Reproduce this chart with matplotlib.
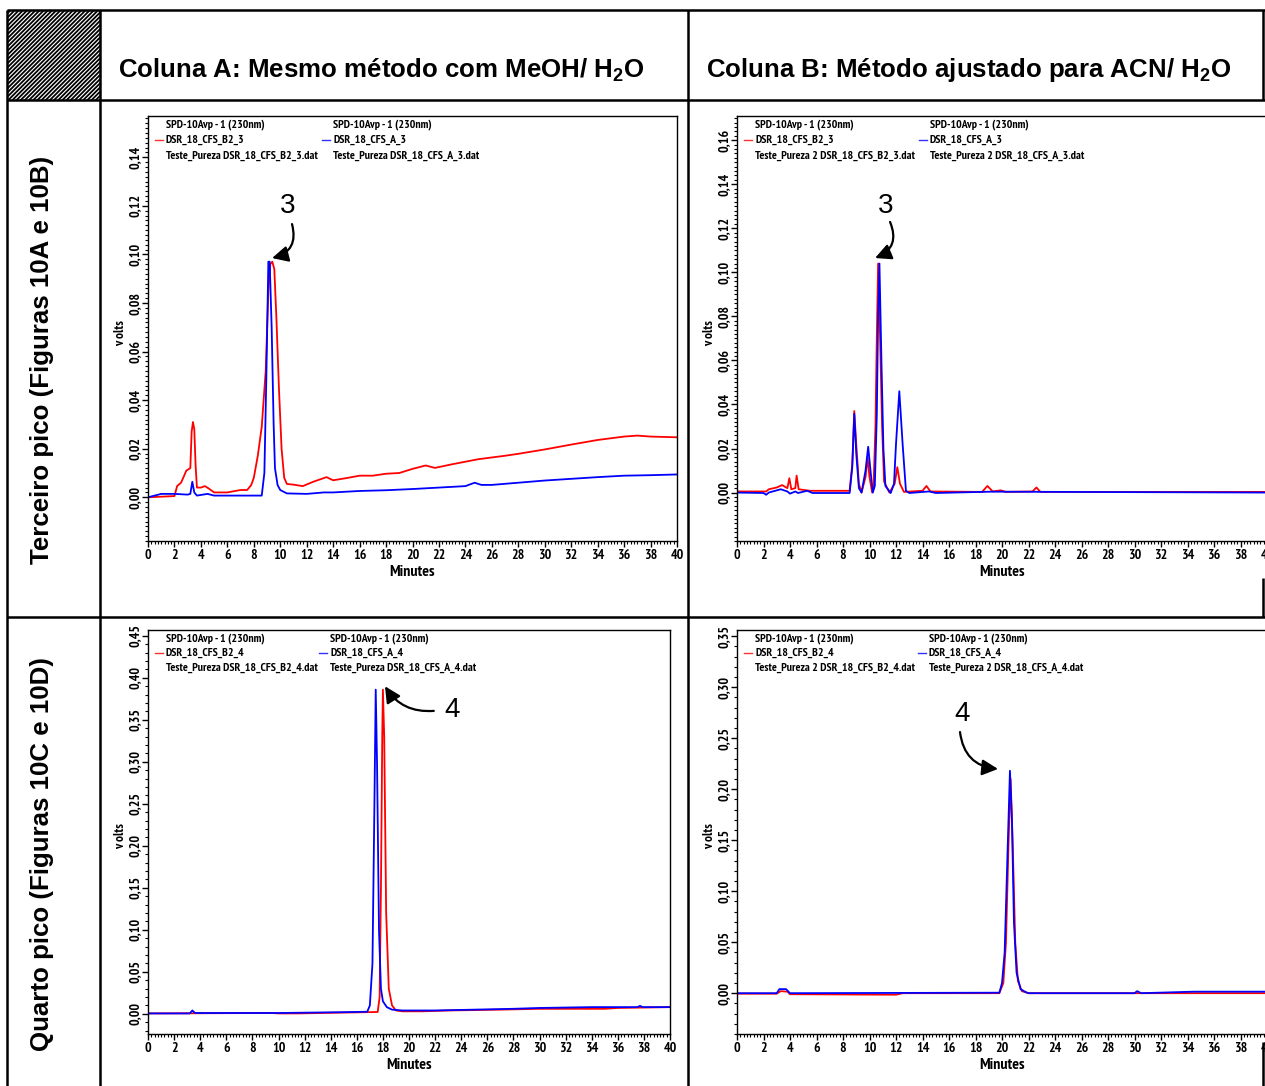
import numpy as np
import matplotlib.pyplot as plt
from matplotlib import font_manager
from matplotlib.font_manager import FontProperties
from matplotlib.patches import Rectangle
from matplotlib.ticker import MultipleLocator, FixedLocator, FuncFormatter

# tempo (min), sinal (volts) lidos dos cromatogramas
# 10A - coluna A, terceiro pico
a3_red = [(0.0, 0.0), (2.0, 0.0005), (2.2, 0.0046), (2.5, 0.006), (2.9, 0.011), (3.2, 0.012),
          (3.3, 0.027), (3.4, 0.031), (3.5, 0.028), (3.6, 0.013), (3.7, 0.004), (4.0, 0.004),
          (4.3, 0.0046), (4.6, 0.0036), (5.0, 0.002), (6.0, 0.002), (7.0, 0.003), (7.5, 0.003),
          (7.8, 0.005), (8.0, 0.008), (8.3, 0.017), (8.6, 0.029), (8.9, 0.052), (9.1, 0.085),
          (9.25, 0.096), (9.4, 0.097), (9.55, 0.094), (9.7, 0.075), (9.9, 0.045), (10.1, 0.02),
          (10.3, 0.008), (10.5, 0.0055), (11.0, 0.0052), (11.7, 0.0046), (12.5, 0.0064),
          (13.5, 0.0083), (14.0, 0.007), (15.0, 0.0079), (16.0, 0.0089), (17.0, 0.0089),
          (18.0, 0.0097), (19.0, 0.010), (20.0, 0.0117), (21.0, 0.0131), (21.7, 0.0121),
          (23.0, 0.0136), (25.0, 0.0157), (27.0, 0.0171), (28.0, 0.0179), (30.0, 0.0197),
          (32.0, 0.0217), (34.0, 0.0236), (36.0, 0.025), (37.0, 0.0254), (38.0, 0.025), (40.0, 0.0247)]
a3_blue = [(0.0, 0.0), (0.5, 0.0007), (1.0, 0.0014), (2.0, 0.0014), (3.0, 0.0011), (3.2, 0.0014),
           (3.35, 0.0064), (3.5, 0.002), (3.7, 0.0007), (4.5, 0.0014), (5.0, 0.0007), (8.6, 0.0007),
           (8.8, 0.01), (8.95, 0.05), (9.1, 0.097), (9.2, 0.097), (9.35, 0.07), (9.5, 0.03),
           (9.6, 0.012), (9.8, 0.005), (10.0, 0.003), (10.5, 0.0016), (12.0, 0.0014), (13.3, 0.002),
           (14.0, 0.002), (16.0, 0.0026), (18.0, 0.0029), (20.0, 0.0034), (22.0, 0.004), (24.0, 0.0046),
           (24.7, 0.006), (25.2, 0.0051), (26.0, 0.0051), (28.0, 0.006), (30.0, 0.0069), (32.0, 0.0076),
           (34.0, 0.0083), (36.0, 0.0089), (38.0, 0.0091), (40.0, 0.0094)]

# 10B - coluna B, terceiro pico
b3_red = [(0.0, 0.0005), (2.2, 0.0005), (2.4, 0.0015), (3.0, 0.0023), (3.4, 0.0034), (3.8, 0.002),
          (3.95, 0.0065), (4.1, 0.0015), (4.4, 0.002), (4.5, 0.0077), (4.65, 0.0015), (5.5, 0.0008),
          (8.5, 0.0008), (8.7, 0.013), (8.85, 0.037), (9.0, 0.022), (9.2, 0.004), (9.4, 0.0),
          (9.7, 0.007), (9.85, 0.016), (10.0, 0.007), (10.2, 0.0), (10.3, 0.002), (10.45, 0.03),
          (10.55, 0.07), (10.65, 0.104), (10.8, 0.07), (10.95, 0.03), (11.1, 0.005), (11.5, 0.0),
          (11.9, 0.004), (12.1, 0.0115), (12.3, 0.004), (12.6, 0.0003), (14.0, 0.0008), (14.3, 0.003),
          (14.6, 0.0005), (18.5, 0.0003), (18.9, 0.003), (19.3, 0.0005), (19.9, 0.001), (20.3, 0.0003),
          (22.3, 0.0005), (22.6, 0.0023), (22.9, 0.0003), (40.0, 0.0003)]
b3_blue = [(0.0, 0.0), (2.0, -0.0002), (2.2, -0.001), (2.4, 0.0), (3.3, 0.0015), (3.8, 0.0005),
           (4.0, -0.0005), (4.4, 0.0005), (4.6, -0.0002), (5.3, 0.0008), (5.7, -0.0002), (8.5, -0.0002),
           (8.7, 0.0115), (8.85, 0.0358), (9.0, 0.0177), (9.2, 0.002), (9.4, 0.0), (9.7, 0.01),
           (9.9, 0.0208), (10.1, 0.0085), (10.25, 0.0), (10.4, 0.003), (10.55, 0.035), (10.65, 0.08),
           (10.75, 0.104), (10.9, 0.06), (11.05, 0.02), (11.2, 0.003), (11.6, -0.0002), (11.85, 0.004),
           (12.0, 0.022), (12.25, 0.046), (12.5, 0.022), (12.75, 0.0008), (13.0, -0.0002), (14.5, 0.0005),
           (15.0, -0.0002), (19.2, 0.0004), (40.0, 0.0)]

# 10C - coluna A, quarto pico
c4_red = [(0.0, 0.0005), (9.5, 0.001), (10.0, 0.0005), (11.5, 0.0005), (15.0, 0.0015), (17.6, 0.0022),
          (17.75, 0.02), (17.85, 0.15), (17.95, 0.33), (18.0, 0.386), (18.1, 0.33), (18.25, 0.12),
          (18.45, 0.03), (18.7, 0.01), (19.0, 0.004), (19.5, 0.003), (21.0, 0.003), (23.0, 0.004),
          (27.0, 0.005), (30.0, 0.006), (35.0, 0.006), (36.0, 0.007), (40.0, 0.008)]
c4_blue = [(0.0, 0.0005), (3.2, 0.0005), (3.4, 0.004), (3.6, 0.001), (10.0, 0.001), (15.0, 0.002),
           (16.8, 0.0025), (17.0, 0.01), (17.2, 0.06), (17.35, 0.25), (17.45, 0.386), (17.55, 0.3),
           (17.7, 0.1), (17.85, 0.03), (18.0, 0.015), (18.3, 0.008), (18.7, 0.005), (19.5, 0.004),
           (22.0, 0.004), (25.0, 0.005), (28.0, 0.006), (30.0, 0.007), (34.0, 0.008), (37.5, 0.008),
           (37.7, 0.0095), (37.9, 0.008), (40.0, 0.008)]

# 10D - coluna B, quarto pico
d4_red = [(0.0, -0.0005), (3.0, -0.0005), (3.3, 0.002), (3.8, 0.0015), (4.0, -0.001), (12.0, -0.0015),
          (12.5, 0.0), (19.8, 0.0), (20.1, 0.01), (20.3, 0.05), (20.5, 0.15), (20.65, 0.21),
          (20.8, 0.15), (21.0, 0.05), (21.2, 0.012), (21.5, 0.002), (22.0, 0.0), (40.0, 0.0)]
d4_blue = [(0.0, 0.0), (3.0, 0.0), (3.2, 0.004), (3.7, 0.004), (4.0, 0.0), (19.8, 0.0005),
           (20.0, 0.01), (20.2, 0.04), (20.4, 0.13), (20.6, 0.218), (20.75, 0.17), (20.9, 0.07),
           (21.1, 0.02), (21.4, 0.004), (21.8, 0.001), (22.0, 0.0), (30.0, 0.0), (30.2, 0.002),
           (30.5, 0.0), (34.5, 0.0015), (40.0, 0.0015)]

col_titles = ['Coluna A: Mesmo método com MeOH/ H$_\\mathbf{2}$O',
              'Coluna B: Método ajustado para ACN/ H$_\\mathbf{2}$O']
row_titles = ['Terceiro pico (Figuras 10A e 10B)', 'Quarto pico (Figuras 10C e 10D)']
detector = 'SPD-10Avp - 1 (230nm)'
samples = [('DSR_18_CFS_B2_3', 'DSR_18_CFS_A_3'), ('DSR_18_CFS_B2_3', 'DSR_18_CFS_A_3'),
           ('DSR_18_CFS_B2_4', 'DSR_18_CFS_A_4'), ('DSR_18_CFS_B2_4', 'DSR_18_CFS_A_4')]
files = [('Teste_Pureza DSR_18_CFS_B2_3.dat', 'Teste_Pureza DSR_18_CFS_A_3.dat'),
         ('Teste_Pureza 2 DSR_18_CFS_B2_3.dat', 'Teste_Pureza 2 DSR_18_CFS_A_3.dat'),
         ('Teste_Pureza DSR_18_CFS_B2_4.dat', 'Teste_Pureza DSR_18_CFS_A_4.dat'),
         ('Teste_Pureza 2 DSR_18_CFS_B2_4.dat', 'Teste_Pureza 2 DSR_18_CFS_A_4.dat')]
peak_labels = ['3', '3', '4', '4']

# fonte estreita em negrito (Arial Narrow no original)
narrow_path = None
k = 0.85
entries = font_manager.fontManager.ttflist
for f in entries:
    if 'Narrow' in f.name and f.weight in (700, 'bold') and f.style == 'normal':
        narrow_path, k = f.fname, 1.0
        break
if narrow_path is None:
    for f in entries:
        fn = f.fname.lower()
        if 'condensed' in fn and 'bold' in fn and 'oblique' not in fn and 'italic' not in fn \
                and 'mono' not in fn and 'serif' not in fn:
            narrow_path = f.fname
            break


def nfp(size):
    if narrow_path:
        return FontProperties(fname=narrow_path, size=size * k)
    return FontProperties(family='DejaVu Sans', weight='bold', size=size * 0.8)


plt.rcParams['mathtext.fontset'] = 'custom'
plt.rcParams['mathtext.bf'] = 'Liberation Sans:bold'
plt.rcParams['mathtext.rm'] = 'Liberation Sans:bold'
plt.rcParams['hatch.linewidth'] = 1.3

W, H = 1265, 1086
fig = plt.figure(figsize=(W / 100, H / 100), dpi=100)
fig.patch.set_facecolor('white')

# tabela de fundo em pixels
bg = fig.add_axes([0, 0, 1, 1])
bg.set_xlim(0, W)
bg.set_ylim(H, 0)
bg.axis('off')
lw_tab = 1.8
for y in [10, 100, 617]:
    bg.plot([7, 1265], [y, y], color='black', lw=lw_tab, solid_capstyle='butt')
for x in [7, 100, 688]:
    bg.plot([x, x], [10, H], color='black', lw=lw_tab, solid_capstyle='butt')
for y0, y1 in [(10, 100), (578, 617), (1042, H)]:
    bg.plot([1263, 1263], [y0, y1], color='black', lw=lw_tab, solid_capstyle='butt')
bg.add_patch(Rectangle((7, 10), 93, 90, facecolor='white', edgecolor='black', hatch='////////', lw=0))

title_kw = dict(fontsize=18.6, fontweight='bold', family='Liberation Sans')
bg.text(118, 70, col_titles[0], ha='left', va='center', **title_kw)
bg.text(706, 70, col_titles[1], ha='left', va='center', **title_kw)
bg.text(42, 360, row_titles[0], rotation=90, ha='center', va='center', **title_kw)
bg.text(42, 854, row_titles[1], rotation=90, ha='center', va='center', **title_kw)

# caixas dos graficos (pixels: esquerda, direita, topo, base)
boxes = [(148, 677, 116, 541), (737, 1267, 116, 541), (148, 670, 630, 1034), (737, 1267, 630, 1034)]
ylims = [(-0.018, 0.157), (-0.022, 0.171), (-0.024, 0.457), (-0.04, 0.356)]
ymajor = [0.02, 0.02, 0.05, 0.05]
yminor = [0.002, 0.002, 0.01, 0.01]
traces = [(a3_red, a3_blue), (b3_red, b3_blue), (c4_red, c4_blue), (d4_red, d4_blue)]
leg_x2 = [0.350, 0.364, 0.349, 0.362]
# posicao do numero do pico, cauda e ponta da seta (dados), curvatura
notes = [((10.59, 0.120), (10.89, 0.1125), (9.38, 0.0985), -0.5),
         ((11.25, 0.130), (11.55, 0.1229), (10.42, 0.1065), -0.5),
         ((23.3, 0.362), (21.9, 0.3607), (18.16, 0.390), -0.3),
         ((16.98, 0.2737), (16.83, 0.256), (19.7, 0.2198), 0.4)]

fmt = FuncFormatter(lambda v, _: ('%.2f' % abs(v)).replace('.', ',') if abs(v) < 1e-9
                    else ('%.2f' % v).replace('.', ','))

for i, (l, r, t, b) in enumerate(boxes):
    ax = fig.add_axes([l / W, 1 - b / H, (r - l) / W, (b - t) / H])
    red = np.array(traces[i][0])
    blue = np.array(traces[i][1])
    ax.plot(red[:, 0], red[:, 1], color='#ff0000', lw=1.3)
    ax.plot(blue[:, 0], blue[:, 1], color='#0000ff', lw=1.3)
    ax.set_xlim(0, 40)
    ax.set_ylim(*ylims[i])
    ax.xaxis.set_major_locator(MultipleLocator(2))
    ax.xaxis.set_minor_locator(MultipleLocator(0.25))
    ax.yaxis.set_major_locator(FixedLocator(np.arange(0, ylims[i][1], ymajor[i])))
    ax.yaxis.set_minor_locator(MultipleLocator(yminor[i]))
    ax.yaxis.set_major_formatter(fmt)
    ax.tick_params(which='major', direction='out', length=4, width=1, pad=2)
    ax.tick_params(which='minor', direction='out', length=2, width=0.8)
    ax.tick_params(axis='y', labelrotation=90, pad=0.8)
    for lab in ax.get_xticklabels() + ax.get_yticklabels():
        lab.set_fontproperties(nfp(10))
    for lab in ax.get_yticklabels():
        lab.set_va('center')
    for sp in ax.spines.values():
        sp.set_linewidth(1.0)
    ax.set_xlabel('Minutes', fontproperties=nfp(11.5), labelpad=2)
    ax.text(-0.052, 0.49, 'v olts', transform=ax.transAxes, rotation=90,
            fontproperties=nfp(9.5), ha='center', va='center')

    # legenda do software
    ys = [0.980, 0.944, 0.906]
    for x0, col, s, f in [(0.034, '#ff3030', samples[i][0], files[i][0]),
                          (leg_x2[i], '#3030ff', samples[i][1], files[i][1])]:
        for yy, line in zip(ys, [detector, s, f]):
            ax.text(x0, yy, line, transform=ax.transAxes, fontproperties=nfp(8.5), va='center')
        ax.plot([x0 - 0.021, x0 - 0.006], [ys[1], ys[1]], transform=ax.transAxes,
                color=col, lw=1.0, clip_on=False)

    txt, tail, tip, rad = notes[i]
    ax.text(txt[0], txt[1], peak_labels[i], fontsize=20, family='Liberation Sans',
            ha='center', va='center')
    ax.annotate('', xy=tip, xytext=tail,
                arrowprops=dict(arrowstyle='-|>,head_length=0.8,head_width=0.4',
                                connectionstyle='arc3,rad=%s' % rad, color='black',
                                lw=1.6, mutation_scale=12, shrinkA=0, shrinkB=0))

fig.savefig('out.png', dpi=100, facecolor='white')
